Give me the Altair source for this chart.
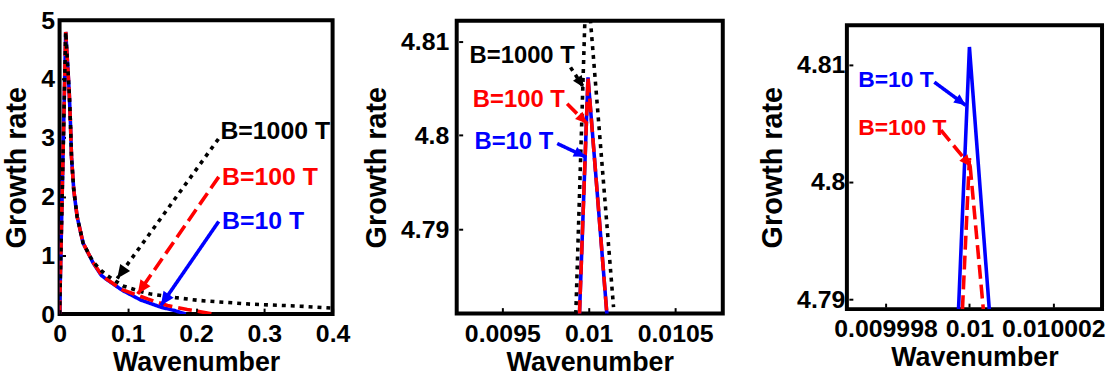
import math
import altair as alt
import pandas as pd

FONT = "Liberation Sans"
BLUE, RED, BLACK = "#0000ff", "#ff0000", "#000000"

# ---------------- Panel 1 data (full range) ----------------
p1_blue_x = [0, 0.009, 0.0141, 0.016, 0.0175, 0.0208, 0.0257, 0.0344, 0.049, 0.0611, 0.0684, 0.0926, 0.119, 0.148, 0.17, 0.185]
p1_blue_y = [0, 4.8, 3.79, 3.23, 2.67, 2.11, 1.66, 1.21, 0.875, 0.66, 0.594, 0.40, 0.24, 0.12, 0.055, 0]
p1_red_x = [0, 0.009, 0.0141, 0.016, 0.0175, 0.0208, 0.0257, 0.0344, 0.049, 0.0611, 0.0684, 0.0926, 0.129, 0.158, 0.187, 0.226]
p1_red_y = [0, 4.8, 3.79, 3.23, 2.67, 2.11, 1.66, 1.21, 0.88, 0.67, 0.60, 0.41, 0.258, 0.146, 0.079, 0]
p1_black_x = [0, 0.009, 0.0141, 0.016, 0.0175, 0.0208, 0.0257, 0.0344, 0.049, 0.0611, 0.0708, 0.0926, 0.12, 0.134, 0.17, 0.2065, 0.279, 0.352, 0.4]
p1_black_y = [0, 4.8, 3.79, 3.23, 2.67, 2.11, 1.66, 1.21, 0.89, 0.74, 0.65, 0.48, 0.38, 0.34, 0.28, 0.23, 0.17, 0.135, 0.10]
p1_labels = ["B=1000 T", "B=100 T", "B=10 T"]
p1_label_x = [0.2356, 0.238, 0.238]
p1_label_y = [3.12, 2.335, 1.577]
p1_arrow_x0 = [0.2327, 0.2332, 0.2332]
p1_arrow_y0 = [2.98, 2.335, 1.577]
p1_arrow_x1 = [0.0844, 0.1145, 0.1484]
p1_arrow_y1 = [0.606, 0.342, 0.146]

# ---------------- Panel 2 data (zoom) ----------------
p2_blue_x = [0.0099466, 0.009996, 0.0101052]
p2_blue_y = [4.78095, 4.80617, 4.78095]
p2_red_x = [0.0099466, 0.009996, 0.0101052]
p2_red_y = [4.78095, 4.80617, 4.78095]
p2_black_x = [0.0099253, 0.0099868, 0.0101437]
p2_black_y = [4.78095, 4.81757, 4.78169]
p2_labels = ["B=1000 T", "B=100 T", "B=10 T"]
p2_label_x = [0.0093103, 0.0093293, 0.009339]
p2_label_y = [4.80847, 4.8037, 4.79929]
p2_arrow_x0 = [0.0098948, 0.0098753, 0.0098178]
p2_arrow_y0 = [4.80723, 4.80335, 4.79912]
p2_arrow_x1 = [0.0099713, 0.0099902, 0.009981]
p2_arrow_y1 = [4.80508, 4.80124, 4.7977]

# ---------------- Panel 3 data (further zoom) ----------------
p3_blue_x = [0.00999974, 0.01, 0.010000473]
p3_blue_y = [4.78915, 4.81153, 4.78915]
p3_red_x = [0.009999834, 0.01, 0.010000331]
p3_red_y = [4.78915, 4.80203, 4.78915]
p3_labels = ["B=10 T", "B=100 T"]
p3_label_x = [0.00999735, 0.00999735]
p3_label_y = [4.80867, 4.80458]
p3_arrow_x0 = [0.009999164, 0.009999321]
p3_arrow_y0 = [4.80853, 4.80443]
p3_arrow_x1 = [0.009999912, 0.010000031]
p3_arrow_y1 = [4.80655, 4.80133]

STYLE = {
    BLUE: dict(dash=[1, 0]),
    RED: dict(dash=[14, 6]),
    BLACK: dict(dash=[4, 5]),
}
HEAD = "M0,0L-0.45,1L0.45,1Z"


def panel(w, h, xdom, ydom, xticks, yticks, series, labels, lx, ly, ax0, ay0, ax1, ay1, colors, fsize,
          head_size, ylabpad):
    xs = alt.Scale(domain=xdom, nice=False, zero=False)
    ys = alt.Scale(domain=ydom, nice=False, zero=False)
    xax = alt.Axis(values=xticks, format="~g", title="Wavenumber")
    yax = alt.Axis(values=yticks, format="~g", title="Growth rate", labelPadding=ylabpad)

    def enc(ch):
        return ch.encode(x=alt.X("x:Q", scale=xs, axis=xax), y=alt.Y("y:Q", scale=ys, axis=yax))

    layers = []
    for xv, yv, col in series:
        df = pd.DataFrame({"x": xv, "y": yv})
        layers.append(enc(alt.Chart(df).mark_line(color=col, strokeDash=STYLE[col]["dash"],
                                                    strokeWidth=3.6, clip=True, strokeCap="butt")))
    sx = w / (xdom[1] - xdom[0])
    sy = h / (ydom[1] - ydom[0])
    for i, col in enumerate(colors):
        adf = pd.DataFrame({"x": [ax0[i]], "y": [ay0[i]], "x2": [ax1[i]], "y2": [ay1[i]]})
        layers.append(alt.Chart(adf).mark_rule(color=col, strokeDash=STYLE[col]["dash"], strokeWidth=3.6,
                                               strokeCap="butt").encode(
            x=alt.X("x:Q", scale=xs, axis=xax), y=alt.Y("y:Q", scale=ys, axis=yax), x2="x2:Q", y2="y2:Q"))
        dx = (ax1[i] - ax0[i]) * sx
        dy = -(ay1[i] - ay0[i]) * sy
        ang = math.degrees(math.atan2(dx, -dy)) % 360
        hdf = pd.DataFrame({"x": [ax1[i]], "y": [ay1[i]], "ang": [ang]})
        layers.append(alt.Chart(hdf).mark_point(shape=HEAD, filled=True, color=col, opacity=1,
                                                size=head_size, strokeWidth=0).encode(
            x=alt.X("x:Q", scale=xs, axis=xax), y=alt.Y("y:Q", scale=ys, axis=yax),
            angle=alt.Angle("ang:Q", scale=None)))
        tdf = pd.DataFrame({"x": [lx[i]], "y": [ly[i]], "t": [labels[i]]})
        layers.append(alt.Chart(tdf).mark_text(align="left", baseline="middle", font=FONT, fontWeight="bold",
                                               fontSize=fsize, color=col).encode(
            x=alt.X("x:Q", scale=xs, axis=xax), y=alt.Y("y:Q", scale=ys, axis=yax), text="t:N"))
    return alt.layer(*layers).properties(width=w, height=h)


p1 = panel(275, 296, [0, 0.4], [0, 5], [0, 0.1, 0.2, 0.3, 0.4], [0, 1, 2, 3, 4, 5],
           [(p1_blue_x, p1_blue_y, BLUE), (p1_red_x, p1_red_y, RED), (p1_black_x, p1_black_y, BLACK)],
           p1_labels, p1_label_x, p1_label_y, p1_arrow_x0, p1_arrow_y0, p1_arrow_x1, p1_arrow_y1,
           [BLACK, RED, BLUE], 25, 750, 7)
p2 = panel(268, 295, [0.009236, 0.010776], [4.781, 4.8122], [0.0095, 0.01, 0.0105], [4.79, 4.8, 4.81],
           [(p2_blue_x, p2_blue_y, BLUE), (p2_red_x, p2_red_y, RED), (p2_black_x, p2_black_y, BLACK)],
           p2_labels, p2_label_x, p2_label_y, p2_arrow_x0, p2_arrow_y0, p2_arrow_x1, p2_arrow_y1,
           [BLACK, RED, BLUE], 24, 550, 10)
p3 = panel(257, 286, [0.00999708, 0.01000316], [4.78915, 4.81339], [0.009998, 0.01, 0.010002], [4.79, 4.8, 4.81],
           [(p3_blue_x, p3_blue_y, BLUE), (p3_red_x, p3_red_y, RED)],
           p3_labels, p3_label_x, p3_label_y, p3_arrow_x0, p3_arrow_y0, p3_arrow_x1, p3_arrow_y1,
           [BLUE, RED], 23, 550, 4)

chart = alt.hconcat(p1, p2, p3, spacing=125, bounds="flush", center=True).properties(
    padding={"left": 1, "top": 5, "right": 0, "bottom": 0}, background="white"
).configure_view(stroke="black", strokeWidth=4).configure_axis(
    domain=False, ticks=True, tickSize=4, tickWidth=2, tickColor="black", offset=-6,
    grid=False, labelFlush=False, labelOverlap=False,
    labelFont=FONT, labelFontWeight="bold", labelFontSize=25, labelColor="black",
    titleFont=FONT, titleFontWeight="bold", titleColor="black",
).configure_axisX(labelPadding=10, titleFontSize=27, titlePadding=3).configure_axisY(
    titleFontSize=29, titlePadding=9)

chart.save("out.html", embed_options={"renderer": "svg", "actions": False})
